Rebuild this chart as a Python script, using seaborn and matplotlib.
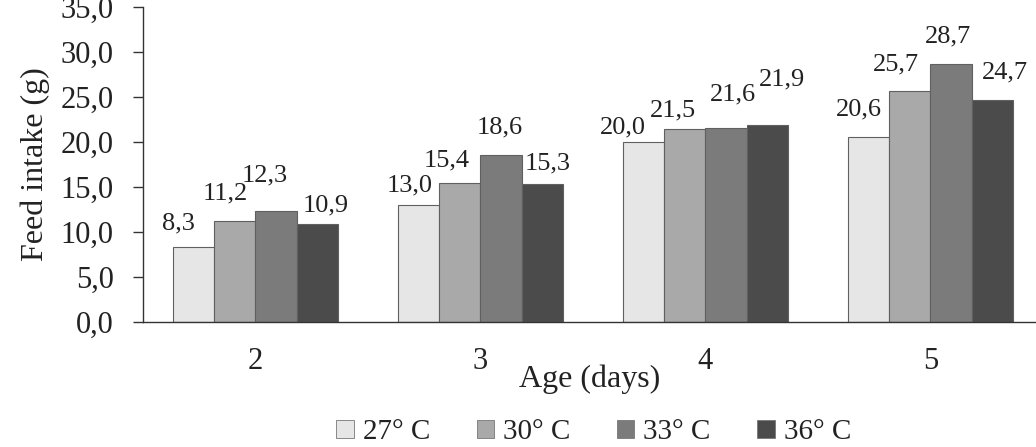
import matplotlib
matplotlib.use("Agg")
import matplotlib.pyplot as plt
import seaborn as sns
import pandas as pd
from matplotlib.patches import Patch

ages = ["2", "3", "4", "5"]
temps = ["27° C", "30° C", "33° C", "36° C"]
t27 = [8.3, 13.0, 20.0, 20.6]
t30 = [11.2, 15.4, 21.5, 25.7]
t33 = [12.3, 18.6, 21.6, 28.7]
t36 = [10.9, 15.3, 21.9, 24.7]
yticks = [0, 5, 10, 15, 20, 25, 30, 35]

colors = ["#e6e6e6", "#a9a9a9", "#7b7b7b", "#4b4b4b"]

# label placement offsets (style only): (dx, dy) in pixels from bar top-center, per series, per age
label_dx = [[-15, -9, -21, -10], [-10, -13, -12, -14], [-11, -1, 7, -3], [9, 6, 15, 13]]
label_dy = [[24, 20, 15, 27], [28, 23, 18, 26], [36, 27, 33, 27], [18, 21, 45, 27]]

rows = []
for t, vals in zip(temps, [t27, t30, t33, t36]):
    for a, v in zip(ages, vals):
        rows.append({"Age": a, "Temp": t, "Feed": v})
df = pd.DataFrame(rows)

sns.set_theme(style="white")
plt.rcParams["font.family"] = ["Liberation Serif", "DejaVu Serif"]

fig = plt.figure(figsize=(10.36, 4.47), dpi=100)
ax = fig.add_axes([0.138, 0.28, 0.862, 0.704])

sns.barplot(data=df, x="Age", y="Feed", hue="Temp", order=ages, hue_order=temps,
            palette=colors, width=0.73, edgecolor="#606060", linewidth=0.8,
            saturation=1, ax=ax, legend=False)

px = 72.0 / fig.dpi
for si, cont in enumerate(ax.containers):
    for ai, (bar, v) in enumerate(zip(cont.patches, cont.datavalues)):
        xc = bar.get_x() + bar.get_width() / 2
        ax.annotate(f"{v:.1f}".replace(".", ","), xy=(xc, bar.get_height()),
                    xytext=(label_dx[si][ai] * px, label_dy[si][ai] * px),
                    textcoords="offset points", ha="center", va="center",
                    fontsize=19, color="#222222", annotation_clip=False)

ax.set_ylim(0, 35)
ax.set_xlim(-0.5, 3.469)
ax.set_yticks(yticks)
ax.set_yticklabels([f"{v:.1f}".replace(".", ",") for v in yticks], fontsize=22, color="#222222")
ax.set_xticks(range(len(ages)))
ax.set_xticklabels(ages, fontsize=22, color="#222222")
ax.set_xticks([0.5, 1.5, 2.5], minor=True)
ax.tick_params(axis="x", which="major", length=0, pad=18)
ax.tick_params(axis="x", which="minor", length=7, direction="out", color="#333333", width=1)
ax.tick_params(axis="y", length=7, direction="out", color="#333333", width=1, left=True, pad=14)
for s in ["top", "right"]:
    ax.spines[s].set_visible(False)
for s in ["left", "bottom"]:
    ax.spines[s].set_color("#333333")
    ax.spines[s].set_linewidth(1)

ax.set_ylabel("Feed intake (g)", fontsize=23, color="#222222", labelpad=8)
ax.set_xlabel("Age (days)", fontsize=23, color="#222222", labelpad=-8)

handles = [Patch(facecolor=c, edgecolor="#777777", linewidth=0.6) for c in colors]
fig.legend(handles, temps, loc="lower center", bbox_to_anchor=(0.573, -0.055), ncol=4,
           frameon=False, fontsize=21, handlelength=0.6, handleheight=0.6,
           handletextpad=0.3, columnspacing=1.6, labelcolor="#222222")

fig.savefig("out.png", dpi=100)
